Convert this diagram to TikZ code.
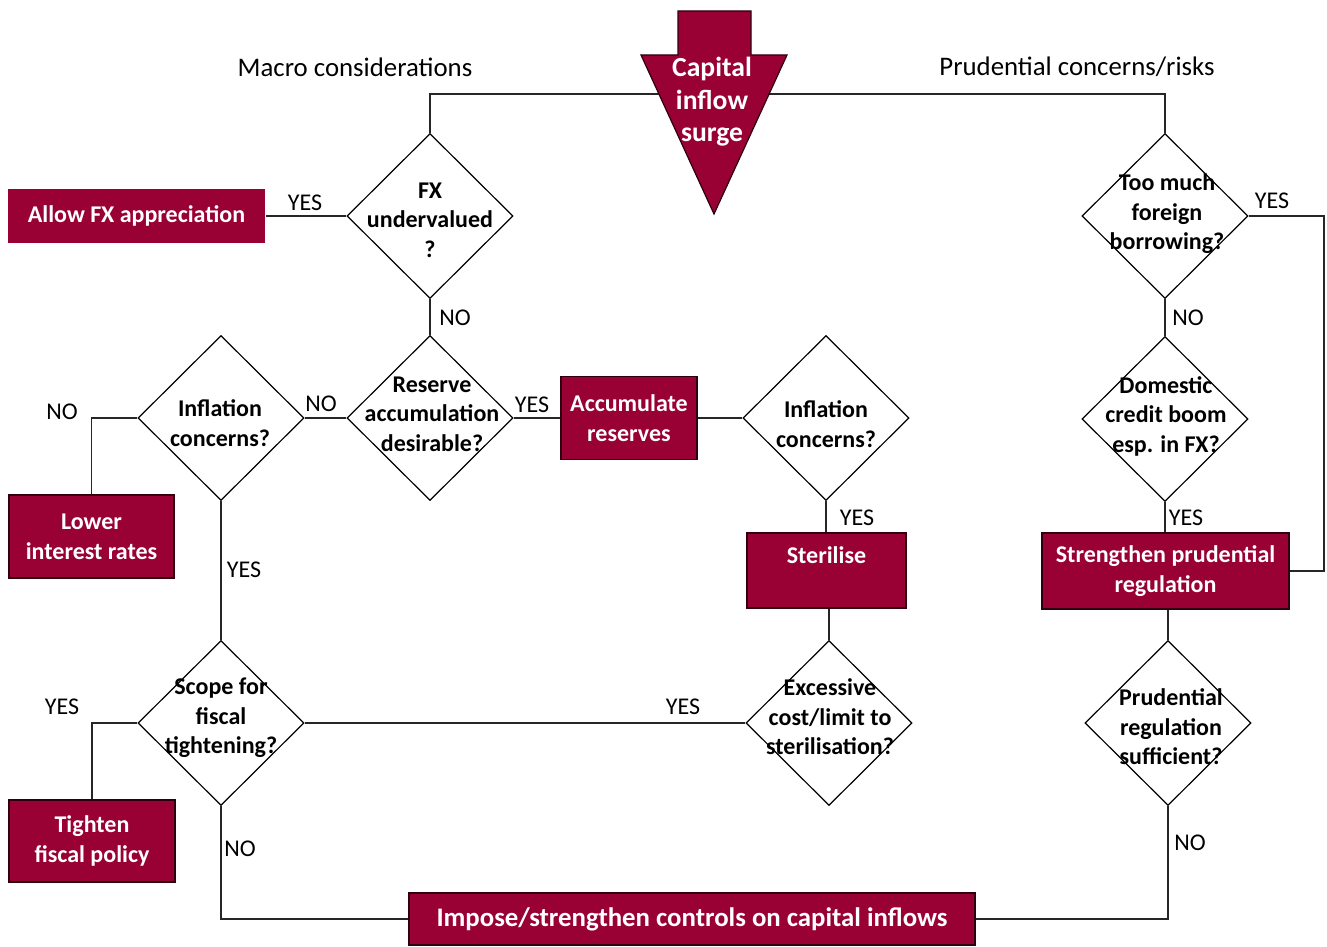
\documentclass[tikz,border=0pt]{standalone}
\usepackage{fontspec}
\setmainfont{Carlito}
\usetikzlibrary{shapes.geometric}
\definecolor{maroon}{RGB}{153,0,51}
\begin{document}
\begin{tikzpicture}[x=0.5pt,y=-0.5pt,
 conn/.style={draw=black!85, line width=0.65pt},
 dia/.style={diamond, draw=black, line width=0.6pt, fill=white, minimum width=83pt, minimum height=82.5pt, inner sep=0pt},
 qtext/.style={font=\fontsize{12}{14.75}\selectfont\bfseries, align=center, inner sep=0pt},
 act/.style={fill=maroon, draw=black!70!maroon, line width=0.6pt, text=white, font=\fontsize{12}{15}\selectfont\bfseries, align=center, inner sep=0pt},
 lbl/.style={font=\fontsize{12}{14}\selectfont, inner sep=0pt},
 head/.style={font=\fontsize{13.4}{15}\selectfont, inner sep=0pt},
]
\useasboundingbox (0,0) rectangle (1327,947);

% diamonds
\node[dia] (fx) at (430,216) {};
\node[dia] (res) at (430,418) {};
\node[dia] (infL) at (221,418) {};
\node[dia] (scope) at (221,723) {};
\node[dia] (infR) at (826,418) {};
\node[dia] (exc) at (829,723) {};
\node[dia] (too) at (1165,216) {};
\node[dia] (dom) at (1165,419) {};
\node[dia] (prud) at (1168,723) {};

% action boxes
\node[act, draw=none, minimum width=128.5pt, minimum height=27pt] (allow) at (136.5,216) {Allow FX appreciation};
\node[act, minimum width=82.5pt, minimum height=41.5pt] (lower) at (91.5,536.5) {Lower\\interest rates};
\node[act, minimum width=83pt, minimum height=41pt] (tighten) at (92,841) {Tighten\\fiscal policy};
\node[act, minimum width=68pt, minimum height=41.5pt] (accum) at (629,418) {Accumulate\\reserves};
\node[act, minimum width=79.5pt, minimum height=37.5pt] (steril) at (826.5,570.5) {Sterilise\\\mbox{}};
\node[act, minimum width=123.5pt, minimum height=38pt] (streng) at (1165.5,571) {Strengthen prudential\\regulation};
\node[act, minimum width=283pt, minimum height=26pt, font=\fontsize{13.4}{15}\selectfont\bfseries] (impose) at (692,919) {Impose/strengthen controls on capital inflows};

% connectors
\coordinate (topbar) at (0,94);
\coordinate (rt) at (1324,216);
\draw[conn] (fx.north) |- (too.north |- topbar) -- (too.north);
\draw[conn] (fx.west) -- (allow.east);
\draw[conn] (fx.south) -- (res.north);
\draw[conn] (res.west) -- (infL.east);
\draw[conn] (infL.west) -| (lower.north);
\draw[conn] (infL.south) -- (scope.north);
\draw[conn] (scope.west) -| (tighten.north);
\draw[conn] (scope.south) |- (impose.west);
\draw[conn] (scope.east) -- (exc.west);
\draw[conn] (res.east) -- (accum.west);
\draw[conn] (accum.east) -- (infR.west);
\draw[conn] (infR.south) -- (infR.south |- steril.north);
\draw[conn] (exc.north) -- (exc.north |- steril.south);
\draw[conn] (too.south) -- (dom.north);
\draw[conn] (dom.south) -- (dom.south |- streng.north);
\draw[conn] (too.east) -- (rt) |- (streng.east);
\draw[conn] (prud.north) -- (prud.north |- streng.south);
\draw[conn] (prud.south) |- (impose.east);

% diamond texts
\node[qtext] (fx-t) at (430,220) {FX\\undervalued\\?};
\node[qtext] (res-t) at (432,414) {Reserve\\accumulation\\desirable?};
\node[qtext] (infL-t) at (220,423) {Inflation\\concerns?};
\node[qtext] (scope-t) at (221,718) {Scope for\\fiscal\\tightening?};
\node[qtext] (infR-t) at (826,424) {Inflation\\concerns?};
\node[qtext] (exc-t) at (830,717) {Excessive\\cost/limit to\\sterilisation?};
\node[qtext] (too-t) at (1167,214) {Too much\\foreign\\borrowing?};
\node[qtext] (dom-t) at (1166,416) {Domestic\\credit boom\\esp. in FX?};
\node[qtext] (prud-t) at (1171,727) {Prudential\\regulation\\sufficient?};

% big arrow
\draw[fill=maroon, draw=black!70!maroon, line width=0.6pt] (678,11) -- (751,11) -- (751,55) -- (787,55) -- (714,214) -- (641,55) -- (678,55) -- cycle;
\node[font=\fontsize{13.8}{16.25}\selectfont\bfseries, text=white, align=center, inner sep=0pt] (cap) at (712,102) {Capital\\inflow\\surge};

% headings
\node[head] (macro) at (355,67) {Macro considerations};
\node[head] (prudh) at (1077,67) {Prudential concerns/risks};

% yes/no labels
\node[lbl] (l1) at (305,203) {YES};
\node[lbl] (l2) at (455,318) {NO};
\node[lbl] (l3) at (321,404) {NO};
\node[lbl] (l4) at (532,405) {YES};
\node[lbl] (l5) at (62,412) {NO};
\node[lbl] (l6) at (244,570) {YES};
\node[lbl] (l7) at (62,707) {YES};
\node[lbl] (l8) at (240,849) {NO};
\node[lbl] (l9) at (683,707) {YES};
\node[lbl] (l10) at (857,518) {YES};
\node[lbl] (l11) at (1272,201) {YES};
\node[lbl] (l12) at (1188,318) {NO};
\node[lbl] (l13) at (1186,518) {YES};
\node[lbl] (l14) at (1190,843) {NO};
\end{tikzpicture}
\end{document}
